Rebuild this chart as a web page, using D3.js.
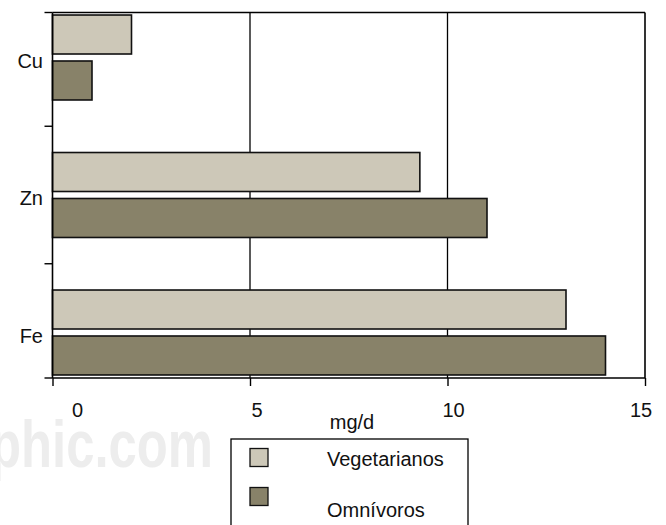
<!DOCTYPE html>
<html>
<head>
<meta charset="utf-8">
<script src="https://cdn.jsdelivr.net/npm/d3@7"></script>
<style>
  html, body { margin: 0; padding: 0; background: #fff; }
  svg { display: block; }
  text { font-family: "Liberation Sans", Arial, sans-serif; }
</style>
</head>
<body>
<svg id="chart" width="666" height="525"></svg>
<script>
const categories = ["Cu", "Zn", "Fe"];
const seriesNames = ["Vegetarianos", "Omnívoros"];
const vegetarianos = [2.0, 9.3, 13.0];
const omnivoros = [1.0, 11.0, 14.0];
const xTicks = [0, 5, 10, 15];
const xLabel = "mg/d";
const colors = ["#cdc8b8", "#888269"];

const svg = d3.select("#chart");
const plot = { left: 52.5, right: 645, top: 12.5, bottom: 378 };

// watermark
svg.append("text")
  .attr("x", -10).attr("y", 467)
  .attr("font-size", 66)
  .attr("font-weight", "bold")
  .attr("textLength", 223)
  .attr("lengthAdjust", "spacingAndGlyphs")
  .attr("fill", "#ededed")
  .text("phic.com");

const x = d3.scaleLinear().domain([0, 15]).range([plot.left, plot.right]);
const y0 = d3.scaleBand().domain(categories)
  .range([-11.25, 401.25]).paddingInner(0.382).paddingOuter(0.191);
const y1 = d3.scaleBand().domain(seriesNames)
  .range([0, y0.bandwidth()]).paddingInner(0.152);

const data = categories.map((c, i) => ({
  cat: c,
  vals: [
    { s: seriesNames[0], v: vegetarianos[i], c: colors[0] },
    { s: seriesNames[1], v: omnivoros[i], c: colors[1] }
  ]
}));

// gridlines (vertical) at 5 and 10
svg.append("g").selectAll("line")
  .data(xTicks.filter(t => t > 0 && t < 15))
  .join("line")
  .attr("x1", d => x(d)).attr("x2", d => x(d))
  .attr("y1", plot.top).attr("y2", plot.bottom)
  .attr("stroke", "#000").attr("stroke-width", 1.3);

// bars
const g = svg.append("g");
data.forEach(d => {
  g.selectAll(null).data(d.vals).join("rect")
    .attr("x", x(0))
    .attr("y", v => y0(d.cat) + y1(v.s))
    .attr("width", v => x(v.v) - x(0))
    .attr("height", y1.bandwidth())
    .attr("fill", v => v.c)
    .attr("stroke", "#111")
    .attr("stroke-width", 1.6);
});

// frame: top and right borders
svg.append("line").attr("x1", plot.left).attr("x2", plot.right)
  .attr("y1", plot.top).attr("y2", plot.top)
  .attr("stroke", "#000").attr("stroke-width", 1.6);
svg.append("line").attr("x1", plot.right).attr("x2", plot.right)
  .attr("y1", plot.top).attr("y2", plot.bottom)
  .attr("stroke", "#000").attr("stroke-width", 1.6);

// x axis
const xAxis = d3.axisBottom(x).tickValues(xTicks).tickSize(8).tickFormat("");
const gx = svg.append("g").attr("transform", `translate(0,${plot.bottom})`).call(xAxis);
gx.select(".domain").attr("stroke", "#000").attr("stroke-width", 1.6)
  .attr("d", `M${plot.left},0H${plot.right}`);
gx.selectAll(".tick line").attr("stroke", "#000").attr("stroke-width", 1.4);
const labelDx = [25, 7, 6, -4];
svg.append("g").selectAll("text").data(xTicks).join("text")
  .attr("x", (d, i) => x(d) + labelDx[i])
  .attr("y", 417)
  .attr("text-anchor", "middle")
  .attr("font-size", 20)
  .attr("fill", "#111")
  .text(d => d);

svg.append("text")
  .attr("x", 352).attr("y", 429)
  .attr("text-anchor", "middle")
  .attr("font-size", 20)
  .attr("fill", "#111")
  .text(xLabel);

// y axis
const bounds = [plot.top,
  ...categories.slice(0, -1).map(c => y0(c) + y0.bandwidth() + (y0.step() - y0.bandwidth()) / 2),
  plot.bottom];
svg.append("line").attr("x1", plot.left).attr("x2", plot.left)
  .attr("y1", plot.top).attr("y2", plot.bottom)
  .attr("stroke", "#000").attr("stroke-width", 1.6);
svg.append("g").selectAll("line").data(bounds).join("line")
  .attr("x1", plot.left - 8).attr("x2", plot.left)
  .attr("y1", d => d).attr("y2", d => d)
  .attr("stroke", "#000").attr("stroke-width", 1.4);
svg.append("g").selectAll("text").data(categories).join("text")
  .attr("x", 43)
  .attr("y", d => y0(d) + y0.bandwidth() / 2 + 10)
  .attr("text-anchor", "end")
  .attr("font-size", 20)
  .attr("fill", "#111")
  .text(d => d);

// legend
const lg = svg.append("g");
lg.append("rect").attr("x", 231).attr("y", 439).attr("width", 237).attr("height", 120)
  .attr("fill", "#fff").attr("stroke", "#000").attr("stroke-width", 1.3);
seriesNames.forEach((s, i) => {
  lg.append("rect").attr("x", 250).attr("y", 448.5 + i * 39).attr("width", 18).attr("height", 18)
    .attr("fill", colors[i]).attr("stroke", "#111").attr("stroke-width", 1.3);
  lg.append("text").attr("x", 327).attr("y", 466 + i * 51)
    .attr("font-size", 20).attr("fill", "#111").text(s);
});
</script>
</body>
</html>
